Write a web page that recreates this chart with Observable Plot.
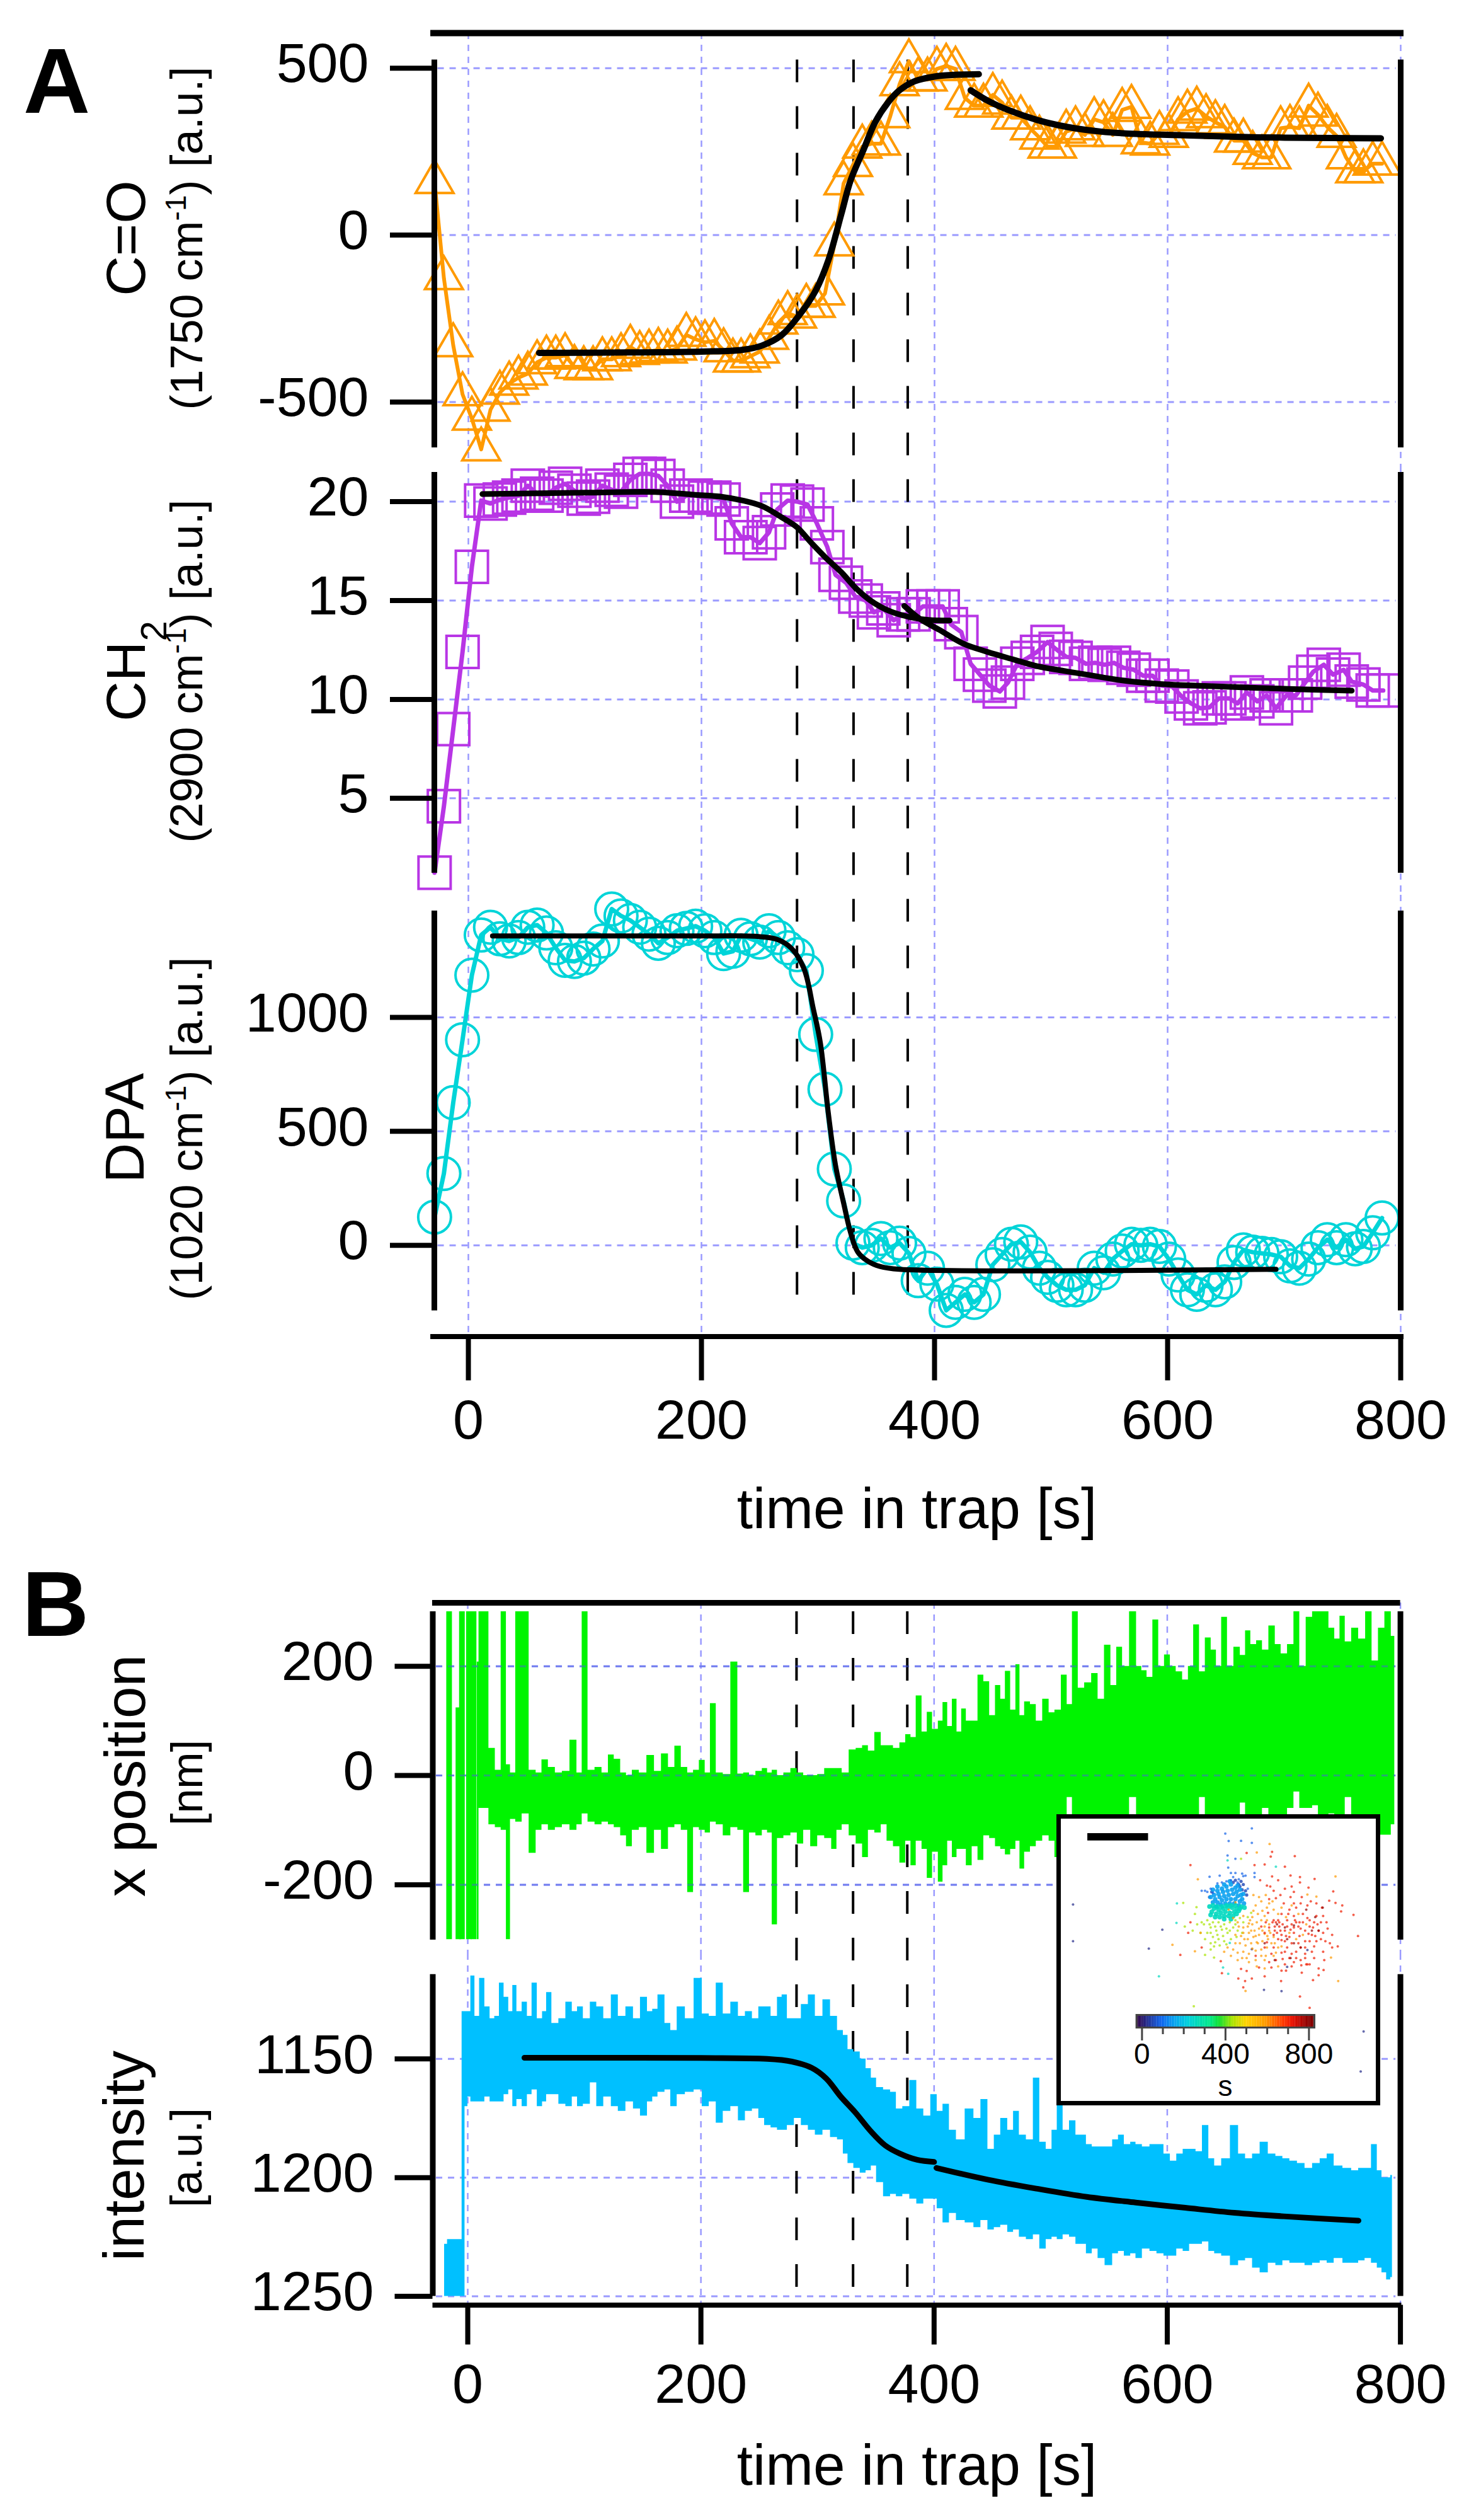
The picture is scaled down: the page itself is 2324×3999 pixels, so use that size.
<!DOCTYPE html>
<html>
<head>
<meta charset="utf-8">
<script src="https://cdn.jsdelivr.net/npm/d3@7"></script>
<script src="https://cdn.jsdelivr.net/npm/@observablehq/plot@0.6"></script>
<style>
html,body{margin:0;padding:0;background:#fff;overflow:hidden}
#page{position:relative;width:2324px;height:3999px}
#page svg{display:block;max-width:none}
.over{position:absolute}
</style>
</head>
<body>
<div id="page"></div>
<script>
// ---------- time grid and slow spectra ----------
const scanTime = [-29,-21,-13,-5,3,11,19,27,35,43,51,59,67,75,83,91,99,107,115,123,131,139,147,155,163,171,179,187,195,203,211,219,227,
234,242,250,258,266,274,282,290,298,306,314,322,330,338,346,354,362,370,378,386,394,402,410,418,426,434,442,450,458,466,474,482,490,
497,505,513,521,529,537,545,553,561,569,577,585,593,601,609,617,625,633,641,649,657,665,673,681,689,697,705,713,721,729,737,745,753,761,768,776,784];
const coValues = [159,-129,-330,-477,-550,-642,-523,-472,-445,-427,
-415,-381,-367,-367,-360,-395,-399,-399,-372,-372,
-360,-335,-353,-349,-344,-349,-340,-299,-312,-321,
-317,-345,-376,-376,-363,-349,-308,-262,-234,-244,
-212,-212,-175,-28,155,210,265,274,274,356,
452,521,466,466,498,507,498,411,388,388,
420,397,352,352,320,292,265,265,310,320,
300,347,338,300,375,384,278,274,306,297,
347,370,379,356,338,324,283,283,246,233,
233,320,324,320,388,361,324,297,233,191,
191,214,214];
const dpaValues = [124,315,626,902,1185,1361,1395,1345,1335,1350,
1395,1405,1370,1305,1250,1245,1260,1300,1335,1475,
1445,1425,1395,1365,1325,1350,1380,1390,1400,1380,
1350,1280,1290,1360,1345,1330,1380,1350,1305,1275,
1205,925,685,335,195,10,-10,0,30,-10,
10,-35,-155,-100,-170,-285,-250,-215,-250,-215,
-85,-40,5,15,-30,-100,-140,-175,-195,-195,
-175,-100,-120,-60,-25,5,0,5,-5,-60,
-130,-195,-215,-175,-195,-160,-75,-20,-30,-35,
-40,-50,-90,-100,-60,-10,25,-10,25,-15,
-5,55,120];
const ch2Time = [-29,-21,-13,-5,3,11,19,27,35,43,51,59,67,75,83,91,99,107,115,123,131,139,147,155,163,171,179,187,195,203,211,219,
226,234,242,250,258,265,274,282,291,299,308,315,324,332,341,348,356,365,373,382,390,399,407,414,423,431,439,447,456,463,
471,480,488,497,504,513,521,530,538,546,554,562,571,579,587,595,604,612,620,628,636,644,653,660,668,677,685,693,702,710,
718,725,734,742,751,758,768,776,785];
const ch2Values = [1.24,4.6,8.5,12.4,16.7,20.05,19.9,20.1,20.2,20.3,20.8,20.4,20.3,20.7,20.9,20.55,20.15,20.25,20.8,20.6,20.5,21.1,21.4,21.4,21.3,20.8,20,20.3,20.3,20.2,20.2,20.1,
18.9,18.2,18.2,17.9,18.45,19.6,20.05,20,19.85,18.9,17.7,16.3,15.9,15.2,15,14.4,14.6,14,14.3,14.3,14.7,14.7,14.7,13.8,13.4,11.8,11.25,10.7,10.4,10.85,
11.8,12.1,12.4,12.9,12.55,12.15,12.1,11.8,11.85,11.75,11.85,11.6,11.5,11.2,11.2,10.7,10.65,10.15,9.8,9.55,9.6,10.05,10.05,9.8,10.35,9.9,10.2,9.55,10.2,10.2,
10.85,11.4,11.75,11.25,11.5,10.9,10.75,10.45,10.45];

// ---------- fitted curves ----------
const coFit1T = [60.7,120,200,235,252,269,283,298,309,320,328,339,349,360,370,383,400,417,438];
const coFit1V = [-353,-352,-349,-344,-331,-299,-244,-166,-74,63,164,255,338,397,434,461,475,480,482];
const coFit2T = [431,446,463,488,514,543,573,615,678,742,783];
const coFit2V = [434,402,375,345,324,310,303,299,293,291,290];
const ch2Fit1T = [12,100,163,193,218,235,252,269,282,294,307,320,332,345,362,379,395,413];
const ch2Fit1V = [20.38,20.45,20.48,20.35,20.24,20.06,19.77,19.2,18.7,17.93,17.14,16.43,15.65,15,14.45,14.16,14.02,13.99];
const ch2Fit2T = [374,387,404,425,446,467,488,509,531,560,594,632,678,720,758];
const ch2Fit2V = [14.73,14.09,13.52,12.81,12.39,12.03,11.68,11.46,11.25,10.97,10.78,10.68,10.58,10.5,10.44];
const dpaFitT = [20.7,193,248,265,277,288,296,302,309,315,322,328,334,343,353,370,693];
const dpaFitV = [1357,1357,1355,1342,1304,1213,1037,889,574,352,185,55,-28,-70,-92,-105,-105];
const intFit1T = [48.6,200,256.8,277.9,294.8,307.4,320,332.7,345.4,358,370.7,385.5,400];
const intFit1V = [1149.5,1149.6,1150,1151.1,1153.7,1158.2,1165.9,1172.7,1180.3,1186.4,1189.9,1192.5,1193.4];
const intFit2T = [402,446.6,488.7,531,573,615.5,657.7,700,764];
const intFit2V = [1195.9,1200.9,1204.7,1208.1,1210.5,1212.7,1214.8,1216.3,1218.1];

// ---------- x position trace, read as upper and lower edge ----------
const xSpikeTime = [-16,-8,-5,1,5];
const xSpikeHigh = [300,124,300,300,300];
const xSpikeLow  = [-300,-300,-300,-300,-300];
const xTime = [8,11,15,21,26,31,35,38,44,49,56,61,66,72,78,84,91,96,100,106,112,118,123,128,134,138,144,150,157,163,169,175,180,186,191,196,201,206,210,216,222,229,234,239,244,250,255,259,263,268,274,280,285,291,297,303,309,315,318,324,330,336,341,346,352,357,362,368,373,378,382,387,392,396,401,406,409,414,417,422,425,430,435,440,445,450,455,459,463,468,472,475,480,485,490,496,501,506,512,516,521,526,532,538,543,549,554,559,564,571,576,580,585,590,595,600,605,610,616,620,625,630,635,640,644,649,654,660,665,669,674,679,684,690,695,700,706,711,716,722,727,732,736,741,746,750,755,761,767,773,778,784,789,795];
const xHigh = [208,300,300,50,10,300,20,5,300,300,10,5,29,15,5,8,65,5,300,10,15,5,38,30,5,0,10,5,37,8,40,15,54,15,5,10,28,5,132,5,2,208,3,5,0,8,13,5,10,0,5,13,5,0,0,2,13,13,13,5,47,50,55,45,79,55,55,50,60,75,70,146,80,116,85,100,134,90,140,80,122,100,100,184,172,110,165,140,191,120,203,110,135,130,100,140,115,120,184,130,300,160,170,187,140,239,165,235,200,300,200,192,180,285,200,221,200,190,175,200,276,190,252,230,200,290,200,235,220,265,240,247,230,274,240,223,240,300,200,290,300,300,300,270,250,292,245,270,250,300,210,270,300,255];
const xLow = [-300,-60,-60,-90,-95,-100,-300,-80,-85,-70,-142,-100,-90,-100,-95,-90,-100,-90,-70,-85,-90,-85,-90,-95,-110,-130,-100,-95,-142,-100,-135,-95,-90,-100,-214,-95,-100,-105,-85,-90,-110,-95,-100,-214,-105,-110,-100,-105,-273,-115,-110,-105,-125,-100,-130,-110,-115,-135,-100,-90,-110,-125,-150,-100,-105,-90,-120,-130,-160,-120,-165,-120,-135,-188,-140,-195,-165,-120,-150,-135,-135,-165,-130,-155,-110,-115,-130,-135,-145,-135,-120,-171,-140,-130,-120,-110,-120,-150,-140,-40,-120,-120,-120,-120,-110,-120,-120,-120,-120,-40,-100,-120,-90,-100,-120,-110,-120,-100,-110,-110,-100,-40,-100,-110,-100,-120,-100,-100,-50,-100,-100,-110,-60,-110,-100,-110,-60,-30,-60,-60,-55,-120,-120,-70,-120,-100,-40,-120,-100,-110,-110,-109,-109,-90];

// ---------- intensity trace, read as upper and lower edge ----------
const intTime = [-20,-15,-10,-6,-4,-1,1,4,8,12,17,21,25,29,33,37,40,44,49,53,57,62,66,69,75,81,87,92,96,102,108,113,120,126,132,139,145,151,157,160,166,172,176,183,190,198,204,210,216,222,229,235,241,247,252,257,263,268,271,277,283,289,295,301,308,314,320,324,328,334,339,344,348,353,360,365,370,376,382,388,394,400,405,410,416,422,431,437,443,449,454,460,466,470,476,482,488,493,499,503,508,513,519,524,528,533,538,543,550,556,560,566,571,575,582,588,594,600,605,611,616,622,627,633,638,643,650,658,664,670,676,683,690,696,702,708,715,721,728,734,740,746,755,761,767,772,778,782,786,790,793];
const intHigh = [1228,1226,1226,1226,1130,1130,1130,1115,1132,1116,1128,1133,1132,1118,1124,1130,1119,1130,1126,1132,1118,1133,1130,1122,1135,1133,1126,1130,1128,1133,1126,1128,1133,1123,1132,1128,1133,1124,1130,1129,1123,1135,1138,1128,1133,1116,1131,1132,1118,1131,1126,1132,1130,1133,1128,1128,1132,1124,1123,1133,1133,1127,1123,1132,1125,1132,1138,1140,1146,1147,1150,1154,1158,1162,1163,1164,1171,1170,1159,1171,1174,1165,1172,1169,1180,1184,1171,1175,1167,1188,1182,1175,1180,1172,1182,1184,1158,1185,1188,1180,1169,1180,1176,1182,1182,1186,1187,1187,1187,1184,1182,1186,1185,1186,1187,1186,1186,1190,1193,1190,1188,1188,1189,1178,1192,1195,1192,1178,1190,1192,1190,1185,1190,1191,1192,1193,1194,1196,1194,1192,1190,1195,1196,1197,1196,1196,1186,1197,1200,1200,1199];
const intLow = [1250,1250,1250,1250,1250,1170,1166,1168,1168,1168,1166,1168,1168,1168,1165,1163,1170,1167,1170,1165,1163,1170,1168,1165,1165,1169,1170,1166,1170,1169,1160,1170,1166,1170,1172,1168,1171,1174,1168,1166,1164,1163,1170,1165,1164,1163,1170,1168,1177,1172,1170,1176,1172,1171,1175,1178,1179,1180,1180,1178,1175,1178,1180,1182,1180,1183,1184,1190,1194,1196,1198,1197,1195,1202,1208,1207,1208,1207,1209,1211,1209,1209,1213,1219,1215,1218,1219,1221,1218,1222,1221,1220,1223,1222,1225,1226,1224,1230,1226,1225,1226,1224,1225,1228,1228,1232,1230,1234,1237,1232,1231,1233,1232,1234,1230,1231,1232,1233,1233,1230,1231,1228,1228,1227,1231,1232,1233,1237,1235,1234,1238,1240,1236,1237,1235,1236,1236,1237,1236,1235,1236,1234,1236,1236,1235,1234,1236,1238,1240,1243,1242];

// ---------- inset scatter: position pairs, one list per part of the time range ----------
const scatterEarly = [[148,515],[148,690],[545,635],[485,725],[1440,1120],[1427,1310],[1075,928],[997,922],[1100,812],[943,728],[1190,732]];
const scatterEarlyT = 20;
const scatterIndigo = [[890,430],[900,445],[885,420],[915,450],[870,400],[905,420],[860,410],[920,470],[765,455],[755,480],[895,405]];
const scatterIndigoT = 50;
const scatterHalo = [[943,153],[825,178],[895,212],[943,222],[838,340],[870,298],[755,383],[800,378],[850,365],[870,365],[900,368],[915,378],[885,395],[955,385],[955,365],[840,213],[835,282],[760,440],[745,455],[735,450],[720,450],[850,400],[860,385],[830,405],[810,410],[790,415],[880,410],[905,380],[925,440],[770,460]];
const scatterHaloT = 85;
const scatterBlue = [[790,450],[810,440],[830,430],[850,420],[870,435],[890,445],[905,465],[775,470],[795,465],[815,455],[835,450],[855,445],[875,455],[895,470],[760,480],[780,490],[800,480],[820,475],[840,470],[860,465],[880,475],[900,490],[770,505],[790,505],[810,495],[830,490],[850,490],[870,490],[890,500],[908,510],[785,525],[805,515],[825,510],[845,510],[865,510],[885,520],[790,430],[820,420],[845,405],[770,445],[880,425]];
const scatterBlueT = 150;
const scatterTeal = [[775,535],[795,540],[815,535],[835,530],[855,530],[875,535],[895,525],[765,550],[785,560],[805,555],[825,550],[845,555],[865,550],[885,545],[800,575],[820,570],[840,570],[860,570],[910,530],[755,525],[770,520],[790,525],[810,525],[830,520],[850,520],[870,520],[890,535],[780,575],[820,585],[850,585],[760,565],[875,560]];
const scatterTealT = 255;
const scatterTealOuter = [[835,305],[1050,335],[610,510],[608,603],[530,857],[815,815],[838,845],[845,698]];
const scatterLime = [[745,590],[770,600],[795,600],[820,610],[845,600],[870,590],[890,580],[760,625],[785,640],[810,635],[835,650],[860,625],[880,640],[745,650],[770,670],[795,680],[820,690],[850,680],[875,670],[900,650],[905,600],[925,575],[940,555],[730,610],[715,650],[690,560],[680,640],[760,700],[775,715],[800,710],[735,755],[760,730],[775,768],[638,508],[895,298],[697,528],[685,1000],[645,620],[755,610],[780,620],[805,620],[830,630],[790,660],[815,665],[845,640],[760,650],[735,680],[870,610],[780,695],[830,705],[720,600],[700,610]];
const scatterLimeT = 430;
const scatterOrange = [[880,600],[905,625],[925,620],[945,610],[965,600],[985,590],[905,650],[930,650],[955,640],[975,630],[1000,620],[1020,610],[925,680],[950,670],[975,660],[1000,655],[1020,640],[890,700],[915,710],[940,700],[965,695],[990,690],[1015,680],[1040,670],[860,730],[880,745],[905,740],[930,750],[960,735],[985,730],[1010,720],[860,580],[905,570],[945,575],[970,560],[990,545],[960,520],[985,500],[950,470],[975,480],[1005,470],[1020,510],[1040,540],[1000,570],[850,760],[880,780],[930,790],[965,810],[1000,780],[1040,760],[1060,720],[703,395],[965,268],[1022,227],[1315,382],[1327,880],[915,927],[590,707],[715,650],[690,738],[1295,768],[1230,478],[1190,468],[840,540],[870,505],[1010,590],[935,590],[895,665],[870,700],[1030,700],[1005,760],[945,725],[900,770],[985,760],[1025,650],[1045,700],[950,545],[1010,530],[1035,500],[930,605],[960,665],[990,640],[1012,665],[940,640],[910,680],[1050,745],[1075,715],[1060,560],[1095,575],[1075,530],[1120,520],[1150,560],[1185,610],[1110,650],[1140,680],[1170,660],[970,700],[920,770],[870,660],[885,620],[1000,820],[1060,810],[835,720],[820,740],[960,780]];
const scatterOrangeT = 590;
const scatterRed = [[1050,600],[1060,590],[1045,620],[1065,620],[1055,650],[1040,660],[1060,680],[1075,660],[1090,640],[1080,610],[1100,590],[1120,610],[1140,600],[1160,630],[1180,640],[1130,650],[1155,665],[1110,670],[1090,690],[1120,700],[1150,700],[1180,690],[1210,660],[1200,620],[1220,600],[1190,580],[1170,560],[1140,530],[1110,540],[1085,510],[1050,485],[1090,440],[1120,430],[1160,510],[1190,520],[1230,570],[1255,530],[1230,510],[1260,570],[1280,630],[1270,690],[1240,640],[1260,740],[1290,700],[1210,740],[1180,750],[1140,740],[1110,770],[1080,775],[1050,780],[1030,750],[1000,720],[1020,790],[1075,830],[1120,810],[1180,770],[1220,770],[1265,780],[1300,660],[1025,430],[1010,425],[980,400],[1060,400],[1130,455],[1195,435],[1015,555],[1075,560],[1130,570],[1100,620],[1150,620],[1170,600],[1130,625],[1200,690],[1230,690],[1040,590],[1120,750],[1160,780],[1200,800],[1240,820],[1090,740],[960,760],[670,328],[920,270],[1033,265],[1027,287],[1134,285],[955,328],[1000,325],[1090,335],[1033,382],[1115,377],[1157,385],[1157,410],[1222,394],[1305,453],[1287,497],[1315,508],[1345,520],[1340,548],[1395,565],[1415,665],[1325,715],[1215,875],[1240,852],[1262,827],[1157,953],[1200,1007],[905,910],[1000,857],[1073,880],[883,868],[913,880],[943,868],[810,842],[805,785],[625,755],[720,720],[670,600],[660,650],[1165,840],[1095,830],[1163,805],[1190,800],[895,822],[920,832],[975,815],[1030,815],[1035,600],[1045,640],[1070,640],[1065,600],[1075,685],[1095,665],[1115,635],[1135,590],[1155,600],[1105,560],[1200,590],[1215,625],[1235,610],[1250,600],[1195,655],[1225,665],[1250,680],[1160,720],[1140,770],[1180,720],[1220,715],[1100,720],[1075,745],[1040,720],[1010,695],[1130,510],[1165,480],[1205,500],[1115,480],[1070,470],[1040,450],[1020,490],[1185,800],[1130,790],[1090,800],[1300,720],[1275,600],[1260,650],[1000,650],[1020,625],[985,620],[1005,600]];
const scatterRedT = 705;
const scatterDark = [[1055,610],[1090,625],[1130,615],[1185,540],[1225,575],[1258,530],[1130,700],[1045,780],[1115,770],[1160,720],[1000,700],[1210,640],[1100,680],[1240,640]];
const scatterDarkT = 785;

// ---------- axes, grid and colours ----------
const xTicks = [0,200,400,600,800];
const dashTimes = [282,330.5,377];
const coTicks = [-500,0,500];
const ch2Ticks = [5,10,15,20];
const dpaTicks = [0,500,1000];
const xPosTicks = [-200,0,200];
const intTicks = [1150,1200,1250];
const colorStopsT = [0,90,154,218,324,367,430,495,590,675,718,792,830];
const colorStopsC = ["#2b1b6e","#1166ee","#0aa5f0","#00d0dc","#00e888","#10e030","#a8e400","#ffd400","#ff9a00","#ff3800","#e81000","#8c0000","#800000"];
const colorbarTicks = [0,400,800];
const colorbarMinor = [100,200,300,500,600,700];
const gridColor = "#9a9aff";
const FONT = "'Liberation Sans', Arial, Helvetica, sans-serif";

const page = document.getElementById("page");
const zip = (t, v) => t.map((x, i) => ({t: x, v: v[i]}));
const XA = {marginLeft: 689, marginRight: 101, domain: [-29.2, 800]};
const XB = {marginLeft: 686.5, marginRight: 101.4, domain: [-30, 800]};

function label(svg, px, py, rotate, size, parts, weight) {
  const t = d3.select(svg).append("text")
    .attr("transform", `translate(${px},${py}) rotate(${rotate})`)
    .attr("text-anchor", "middle").attr("font-size", size).attr("fill", "black");
  if (weight) t.attr("font-weight", weight);
  let shift = 0;
  for (const p of parts) {
    const s = t.append("tspan").text(p.text);
    const want = p.dy || 0;
    if (want !== shift) { s.attr("dy", want - shift); shift = want; }
    if (p.size) s.attr("font-size", p.size);
  }
  return t;
}

function panel(o) {
  const X = o.X, mt = o.marginTop, mb = o.marginBottom;
  const plot = Plot.plot({
    width: 2324, height: o.height,
    marginLeft: X.marginLeft, marginRight: X.marginRight, marginTop: mt, marginBottom: mb,
    x: {domain: X.domain, axis: null},
    y: {domain: o.yDomain, axis: null},
    style: {fontFamily: FONT, overflow: "visible", background: "transparent"},
    marks: [
      Plot.ruleX(xTicks, {stroke: gridColor, strokeWidth: 2.5, strokeDasharray: "10 9", insetTop: -(o.gridTop ?? mt), insetBottom: -mb}),
      Plot.ruleY(o.yTicks, {x1: X.domain[0] + 3, x2: X.domain[1] - 4, stroke: gridColor, strokeWidth: 3, strokeDasharray: "10 9"}),
      Plot.ruleX(dashTimes, {stroke: "black", strokeWidth: 4, strokeDasharray: "36 38", strokeDashoffset: o.dashOffset, insetTop: o.dashTop ?? -mt, insetBottom: o.dashBottom ?? -mb}),
      ...o.below,
      Plot.ruleX(X.domain, {stroke: "black", strokeWidth: 9}),
      Plot.axisY(o.yTicks, {anchor: "left", tickSize: o.tickSize, strokeWidth: 8, stroke: "black", tickFormat: () => "", label: null}),
      Plot.axisY(o.yTicks, {anchor: "left", tickSize: 0, tickPadding: o.padding, stroke: "none", fontSize: 88, dy: -6, fill: "black", tickFormat: d => String(d), label: null}),
      ...(o.topLine ? [Plot.ruleY([o.yDomain[1]], {x1: o.topLine[0], x2: o.topLine[1], dy: -o.topLine[2], stroke: "black", strokeWidth: o.topLine[3]})] : []),
      ...(o.above || [])
    ]
  });
  page.appendChild(plot);
  return plot;
}

function axisStrip(X, height, x1, x2, tick, pad) {
  const plot = Plot.plot({
    width: 2324, height,
    marginLeft: X.marginLeft, marginRight: X.marginRight, marginTop: 0, marginBottom: height - 0.5,
    x: {domain: X.domain, axis: null},
    y: {domain: [0, 1], axis: null},
    style: {fontFamily: FONT, overflow: "visible", background: "transparent"},
    marks: [
      Plot.axisX(xTicks, {anchor: "bottom", tickSize: tick, tickPadding: pad, strokeWidth: 8, stroke: "black", fontSize: 88, fill: "black", tickFormat: d => String(d), label: null}),
      Plot.ruleY([0], {x1, x2, stroke: "black", strokeWidth: 8})
    ]
  });
  page.appendChild(plot);
  return plot;
}

const fitLine = (t, v, w) => Plot.line(zip(t, v), {x: "t", y: "v", stroke: "black", strokeWidth: w, curve: "catmull-rom"});

// A: C=O
const coColor = "#ff9a00";
const s1 = panel({
  X: XA, height: 740, marginTop: 94.5, marginBottom: 30, yDomain: [-637, 525], yTicks: coTicks,
  tickSize: 70, padding: 104, dashOffset: 0, dashTop: 0, gridTop: 42.5,
  topLine: [-32.4, 802.7, 42.5, 10],
  below: [
    Plot.line(zip(scanTime, coValues), {x: "t", y: "v", stroke: coColor, strokeWidth: 6}),
    Plot.dot(zip(scanTime, coValues), {x: "t", y: "v", symbol: "triangle", r: 22.3, stroke: coColor, strokeWidth: 4, fill: "none"})
  ],
  above: [fitLine(coFit1T, coFit1V, 10), fitLine(coFit2T, coFit2V, 10)]
});
label(s1, 230, 378, -90, 88, [{text: "C=O"}]);
label(s1, 321, 378, -90, 72, [{text: "(1750 cm"}, {text: "-1", dy: -26, size: 46}, {text: ") [a.u.]"}]);
label(s1, 90, 179, 0, 147, [{text: "A"}], "bold");

// A: CH2
const ch2Color = "#b835e5";
const s2 = panel({
  X: XA, height: 680, marginTop: 9, marginBottom: 35, yDomain: [1.22, 21.48], yTicks: ch2Ticks,
  tickSize: 70, padding: 104, dashOffset: 53.5,
  below: [
    Plot.line(zip(ch2Time, ch2Values), {x: "t", y: "v", stroke: ch2Color, strokeWidth: 7}),
    Plot.dot(zip(ch2Time, ch2Values), {x: "t", y: "v", symbol: "square", r: 28.8, stroke: ch2Color, strokeWidth: 4, fill: "none"})
  ],
  above: [fitLine(ch2Fit1T, ch2Fit1V, 9), fitLine(ch2Fit2T, ch2Fit2V, 9)]
});
label(s2, 230, 325, -90, 88, [{text: "CH"}, {text: "2", dy: 34, size: 58}]);
label(s2, 321, 325, -90, 72, [{text: "(2900 cm"}, {text: "-1", dy: -26, size: 46}, {text: ") [a.u.]"}]);

// A: DPA
const dpaColor = "#00d4d8";
const s3 = panel({
  X: XA, height: 700, marginTop: 25, marginBottom: 40.4, yDomain: [-287, 1467], yTicks: dpaTicks,
  tickSize: 70, padding: 104, dashOffset: 67.5, dashBottom: 20,
  below: [
    Plot.line(zip(scanTime, dpaValues), {x: "t", y: "v", stroke: dpaColor, strokeWidth: 7}),
    Plot.dot(zip(scanTime, dpaValues), {x: "t", y: "v", symbol: "circle", r: 26, stroke: dpaColor, strokeWidth: 4, fill: "none"})
  ],
  above: [fitLine(dpaFitT, dpaFitV, 8)]
});
label(s3, 228, 370, -90, 88, [{text: "DPA"}]);
label(s3, 321, 371, -90, 72, [{text: "(1020 cm"}, {text: "-1", dy: -26, size: 46}, {text: ") [a.u.]"}]);

const s3x = axisStrip(XA, 350, -32.4, 802.7, 70, 30);
label(s3x, 1455.5, 304.5, 0, 91, [{text: "time in trap [s]"}]);

// B: x position
const xColor = "#00f400";
const s4 = panel({
  X: XB, height: 630, marginTop: 87, marginBottom: 22, yDomain: [-301, 300], yTicks: xPosTicks,
  tickSize: 60, padding: 93.5, dashOffset: 0, dashTop: 0, gridTop: 14,
  topLine: [-30.3, 800, 14, 9],
  below: [
    Plot.areaY(xTime.map((t, i) => ({t, hi: xHigh[i], lo: xLow[i]})), {x: "t", y1: "lo", y2: "hi", fill: xColor, curve: "step"}),
    Plot.ruleX(xSpikeTime.map((t, i) => ({t, hi: xSpikeHigh[i], lo: xSpikeLow[i]})), {x: "t", y1: "lo", y2: "hi", stroke: xColor, strokeWidth: 9}),
    Plot.ruleY(xPosTicks, {x1: XB.domain[0] + 3, x2: XB.domain[1] - 4, stroke: "#4a60e0", strokeOpacity: 0.5, strokeWidth: 3, strokeDasharray: "10 9"})
  ]
});
label(s4, 230, 348, -90, 91, [{text: "x position"}]);
label(s4, 321, 359, -90, 70, [{text: "[nm]"}]);
label(s4, 88, 126, 0, 147, [{text: "B"}], "bold");

// B: intensity
const intColor = "#00c0ff";
const s5 = panel({
  X: XB, height: 557, marginTop: 32.7, marginBottom: 13.4, yDomain: [1250, 1114.4], yTicks: intTicks,
  tickSize: 60, padding: 93.5, dashOffset: 25, dashBottom: 10.6,
  below: [
    Plot.areaY(intTime.map((t, i) => ({t, hi: intHigh[i], lo: intLow[i]})), {x: "t", y1: "lo", y2: "hi", fill: intColor, curve: "step"})
  ],
  above: [fitLine(intFit1T, intFit1V, 9), fitLine(intFit2T, intFit2V, 9)]
});
label(s5, 228, 321, -90, 91, [{text: "intensity"}]);
label(s5, 320, 324, -90, 71, [{text: "[a.u.]"}]);

const s5x = axisStrip(XB, 342, -30, 801, 63, 30);
label(s5x, 1455.5, 286, 0, 91, [{text: "time in trap [s]"}]);

// inset
const colorScale = {type: "linear", domain: colorStopsT, range: colorStopsC};
const pts = (list, t) => list.map(([x, y]) => ({x, y, t}));
const outer = [...pts(scatterEarly, scatterEarlyT), ...pts(scatterHalo, scatterHaloT), ...pts(scatterTealOuter, scatterTealT), ...pts(scatterLime, scatterLimeT), ...pts(scatterOrange, scatterOrangeT), ...pts(scatterRed, scatterRedT), ...pts(scatterDark, scatterDarkT)];
const inset = Plot.plot({
  width: 507, height: 455, margin: 0,
  x: {domain: [84, 1504], axis: null},
  y: {domain: [1461, 96], axis: null},
  color: colorScale,
  style: {fontFamily: FONT, overflow: "visible", background: "transparent"},
  marks: [
    Plot.frame({stroke: "black", strokeWidth: 7, fill: "white"}),
    Plot.rect([{a: 213, b: 483, c: 212, d: 177}], {x1: "a", x2: "b", y1: "c", y2: "d", fill: "black"}),
    Plot.dot(pts(scatterIndigo, scatterIndigoT), {x: "x", y: "y", r: 2.6, fill: "t", fillOpacity: 0.8}),
    Plot.dot(pts(scatterBlue, scatterBlueT), {x: "x", y: "y", r: 3.6, fill: "t", fillOpacity: 0.9}),
    Plot.dot(pts(scatterTeal, scatterTealT), {x: "x", y: "y", r: 3.8, fill: "t", fillOpacity: 0.9}),
    Plot.dot(outer, {x: "x", y: "y", r: 2, fill: "t", fillOpacity: 0.7})
  ]
});
inset.setAttribute("class", inset.getAttribute("class") + " over");
inset.style.left = "1680px"; inset.style.top = "2882px";
page.appendChild(inset);

const colorbarCells = d3.range(-26.5, 826, 8).map(a => ({a, b: a + 8.5}));
const colorbar = Plot.plot({
  width: 320, height: 150,
  marginLeft: 13.6, marginRight: 24, marginTop: 7, marginBottom: 123,
  x: {domain: [-26.5, 826], axis: null},
  y: {domain: [0, 1], axis: null},
  color: colorScale,
  style: {fontFamily: FONT, overflow: "visible", background: "transparent"},
  marks: [
    Plot.rect(colorbarCells, {x1: "a", x2: "b", y1: 0, y2: 1, fill: "a"}),
    Plot.frame({stroke: "#444", strokeWidth: 3}),
    Plot.axisX(colorbarMinor, {anchor: "bottom", tickSize: 11, strokeWidth: 3, stroke: "#444", tickFormat: () => "", label: null}),
    Plot.axisX(colorbarTicks, {anchor: "bottom", tickSize: 21, tickPadding: 4, strokeWidth: 3, stroke: "#444", fontSize: 46, fill: "black", tickFormat: d => String(d), label: null})
  ]
});
colorbar.setAttribute("class", colorbar.getAttribute("class") + " over");
colorbar.style.left = "1790px"; colorbar.style.top = "3190px";
label(colorbar, 155, 136, 0, 46, [{text: "s"}]);
page.appendChild(colorbar);
</script>
</body>
</html>
